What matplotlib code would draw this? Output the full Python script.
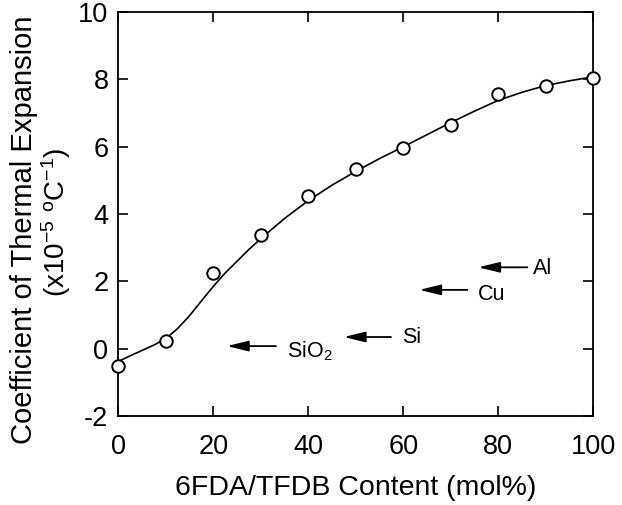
import matplotlib
matplotlib.use("Agg")
import matplotlib.pyplot as plt

plt.rcParams['font.family'] = ['Liberation Sans', 'DejaVu Sans']
plt.rcParams['mathtext.fontset'] = 'custom'
plt.rcParams['mathtext.rm'] = 'Liberation Sans'
plt.rcParams['mathtext.it'] = 'Liberation Sans:italic'

# measured data points
content = [0, 10, 20, 30, 40, 50, 60, 70, 80, 90, 100]
cte = [-0.52, 0.23, 2.24, 3.38, 4.54, 5.35, 5.97, 6.64, 7.57, 7.81, 8.04]

# fitted smooth curve
curve_x = [0, 2.5, 5, 7.5, 10, 12.5, 15, 17.5, 20, 22.5, 25, 27.5, 30, 35, 40, 45,
           50, 55, 60, 65, 70, 75, 80, 85, 90, 95, 100]
curve_y = [-0.38, -0.21, -0.05, 0.11, 0.3, 0.6, 0.98, 1.42, 1.85, 2.25, 2.6, 2.95,
           3.27, 3.87, 4.4, 4.86, 5.27, 5.65, 6.0, 6.36, 6.72, 7.06, 7.38, 7.62,
           7.82, 7.96, 8.08]

# reference material annotations
materials = ['Al', 'Cu', 'Si', 'SiO$_2$']
arrow_head_x = [75.8, 63.4, 47.5, 22.9]
arrow_tail_x = [86.1, 73.5, 57.4, 33.2]
arrow_y = [2.42, 1.75, 0.35, 0.08]
label_x = [87.3, 75.6, 59.8, 35.6]
label_y = [2.37, 1.62, 0.33, -0.08]

xticks = [0, 20, 40, 60, 80, 100]
yticks = [-2, 0, 2, 4, 6, 8, 10]

fig = plt.figure(figsize=(6.22, 5.05), dpi=100)
ax = fig.add_axes([0.19, 0.176, 0.764, 0.800])

ax.plot(curve_x, curve_y, color='black', lw=1.2, zorder=2)
ax.plot(content, cte, 'o', mfc='white', mec='black', mew=1.4, ms=9, zorder=3,
        clip_on=False)

for name, hx, tx, ay, lx, ly in zip(materials, arrow_head_x, arrow_tail_x, arrow_y, label_x, label_y):
    ax.annotate('', xy=(hx, ay), xytext=(tx, ay),
                arrowprops=dict(arrowstyle='-|>,head_length=1.3,head_width=0.32',
                                color='black', lw=1.3, shrinkA=0, shrinkB=0))
    ax.text(lx, ly, name, fontsize=15.5, va='center', ha='left')

ax.set_xlim(0, 100)
ax.set_ylim(-2, 10)
ax.set_xticks(xticks)
ax.set_yticks(yticks)
ax.set_xticklabels([str(t) for t in xticks])
ax.set_yticklabels([str(t) for t in yticks])
ax.tick_params(direction='in', length=7, width=1.2, top=True, right=True,
               labelsize=19.5)
ax.tick_params(axis='x', pad=13)
ax.tick_params(axis='y', pad=7)
for s in ax.spines.values():
    s.set_linewidth(1.3)

ax.set_xlabel('6FDA/TFDB Content (mol%)', fontsize=20.5, va='top')
ax.xaxis.set_label_coords(0.5, -0.145)
fig.text(0.038, 0.545, 'Coefficient of Thermal Expansion', rotation=90,
         fontsize=21, ha='center', va='center')
fig.text(0.09, 0.56, '(x10$^{-5}$ $^{\\mathrm{o}}$C$^{-1}$)', rotation=90,
         fontsize=20, ha='center', va='center')

fig.savefig('out.png', dpi=100)
